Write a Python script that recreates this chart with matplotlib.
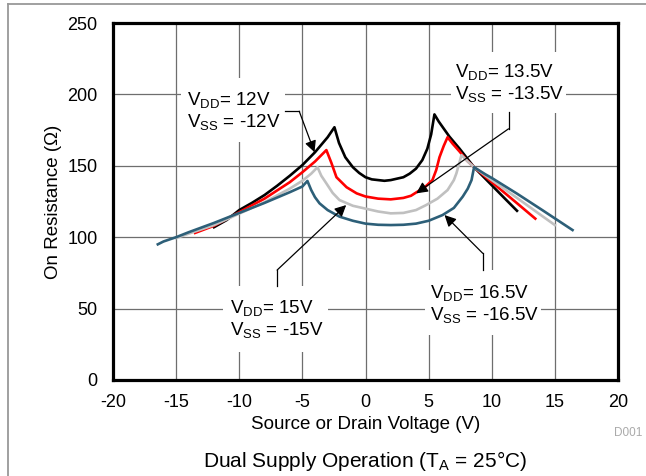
import matplotlib
matplotlib.use("Agg")
import matplotlib.pyplot as plt
from matplotlib.patches import Rectangle
from matplotlib.lines import Line2D

plt.rcParams['font.family'] = ['Liberation Sans', 'DejaVu Sans']
plt.rcParams['mathtext.default'] = 'regular'
plt.rcParams['axes.unicode_minus'] = False

# ---------------- data ----------------
v12 = [-12.0, -11, -10, -9, -8, -7, -6, -5, -4, -3, -2.46, -2.1, -1.6, -1.0, -0.5, 0, 0.5,
       1, 1.5, 2, 2.5, 3, 3.5, 4, 4.5, 4.9, 5.2, 5.46, 5.8, 6.2, 6.65, 7.45, 8.6, 10, 11, 12.0]
r12 = [107, 112, 119, 124, 129.5, 136, 143, 150.5, 159.5, 170, 177, 166, 156, 149, 145, 142, 140.5,
       140, 139.5, 140, 141, 142, 144.5, 148, 154, 162, 172, 186, 181, 176, 170.4, 162, 149, 136.4, 127.4, 118.5]

v135 = [-13.5, -12, -10, -8, -6, -5, -4, -3.1, -2.7, -2.3, -1.5, -0.7, 0, 1, 2, 3, 3.6, 4.1,
        4.7, 5.3, 5.6, 5.86, 6.2, 6.5, 6.9, 7.45, 8.0, 8.6, 10, 11, 12, 13.45]
r135 = [103, 108, 117.5, 127, 138.5, 145.5, 153, 161, 152, 142, 135, 130.7, 128.5, 127, 126.5, 127.5, 129, 131.8,
        135, 140, 147, 156, 164, 170, 165.5, 160, 154, 149, 138.6, 131.2, 123.8, 113]

v15 = [-15, -14, -12, -10, -8, -6, -5, -4.3, -3.8, -3.5, -3.1, -2.6, -2.06, -1, 0, 1, 2, 3, 4,
       4.8, 5.7, 6.5, 7.0, 7.2, 7.4, 7.6, 8.1, 8.6, 10, 12, 14, 15]
r15 = [99.4, 102.5, 108.5, 116.5, 124.5, 134, 139.5, 144.5, 149, 143, 137.7, 131, 126, 122, 120, 118, 116.7, 117, 119,
       122.5, 127, 133, 140, 144.7, 151, 157.5, 153, 149, 140, 127.5, 114.8, 108.5]

v165 = [-16.45, -16, -15, -14, -12, -10, -8, -6, -5, -4.6, -4.3, -4.0, -3.64, -3, -2.06, -1, 0, 1, 2, 3,
        4, 5, 6.1, 7.0, 7.7, 8.1, 8.4, 8.6, 9.5, 10, 12, 14, 16.4]
r165 = [95, 97, 100, 103.5, 110, 117, 124, 131.5, 135.5, 139.4, 133, 128, 123.7, 119, 114.4, 111.5, 109.5, 108.7, 108.5, 108.7,
        109.5, 111.5, 115.5, 120.5, 128.4, 134, 140, 149, 144, 141.5, 130.5, 119, 105]

series = [(v12, r12, 'black'), (v135, r135, '#ff0000'), (v15, r15, '#c0c0c0'), (v165, r165, '#2d5f78')]

labels = [r'V$_{DD}$= 12V' + '\n' + r'V$_{SS}$ = -12V',
          r'V$_{DD}$= 13.5V' + '\n' + r'V$_{SS}$ = -13.5V',
          r'V$_{DD}$= 15V' + '\n' + r'V$_{SS}$ = -15V',
          r'V$_{DD}$= 16.5V' + '\n' + r'V$_{SS}$ = -16.5V']

xticks = list(range(-20, 21, 5))
yticks = list(range(0, 251, 50))

# ---------------- figure ----------------
W, H = 646, 476
fig = plt.figure(figsize=(W / 100, H / 100), dpi=100)
ax = fig.add_axes([113 / W, 1 - 380 / H, (618 - 113) / W, (380 - 23) / H])
ax.set_xlim(-20, 20)
ax.set_ylim(0, 250)
ax.set_xticks(xticks)
ax.set_yticks(yticks)
ax.tick_params(axis='x', length=0, labelsize=13, pad=10)
ax.tick_params(axis='y', length=0, labelsize=13, pad=11)
ax.grid(True, color='#6e6e6e', lw=0.9)
ax.set_axisbelow(True)
for s in ax.spines.values():
    s.set_linewidth(2.3)
    s.set_zorder(10)

for v, r, c in series:
    ax.plot(v, r, color=c, lw=1.9, zorder=4, solid_joinstyle='round')

# annotation boxes: (x0, x1, y0, y1) in data units, text anchor (x, y)
boxes = [(-14.6, -6.4, 166.7, 211.5), (6.8, 15.9, 187.0, 230.0),
         (-11.3, -3.0, 19.6, 65.8), (4.7, 13.9, 31.5, 77.0)]
text_pos = [(-14.1, 188.4), (7.05, 208.0), (-10.7, 42.7), (5.07, 53.2)]
for (x0, x1, y0, y1), (tx, ty), lab in zip(boxes, text_pos, labels):
    ax.add_patch(Rectangle((x0, y0), x1 - x0, y1 - y0, facecolor='white',
                           edgecolor='none', zorder=2))
    ax.text(tx, ty, lab, fontsize=13.5, ha='left', va='center', zorder=3,
            linespacing=1.1)

# leader lines: start, elbow, tip
leaders = [((-6.4, 188.2), (-5.25, 188.2), (-4.04, 159.5)),
           ((11.33, 187.4), (11.33, 175.9), (4.02, 130.7)),
           ((-7.0, 65.8), (-7.0, 77.0), (-1.53, 122.5)),
           ((9.29, 77.0), (9.29, 88.7), (6.26, 115.5))]
for st, el, tip in leaders:
    ax.plot([st[0], el[0]], [st[1], el[1]], color='black', lw=0.9, zorder=5)
    ax.annotate('', xy=tip, xytext=el,
                arrowprops=dict(arrowstyle='-|>', color='black', lw=0.9,
                                mutation_scale=17, shrinkA=0, shrinkB=0),
                zorder=5)

ax.set_xlabel('Source or Drain Voltage (V)', fontsize=13.5, labelpad=4)
ax.set_ylabel('On Resistance (Ω)', fontsize=13.5, labelpad=4)

fig.text(628 / W, 1 - 433 / H, 'D001', color='#aaaaaa', fontsize=8.5,
         ha='center', va='center')
fig.text(365 / W, 1 - 461 / H, r'Dual Supply Operation (T$_A$ = 25°C)',
         fontsize=15, ha='center', va='center')

# outer frame
fig.add_artist(Line2D([8 / W, 8 / W], [0, 1 - 4 / H], transform=fig.transFigure,
                      color='#999999', lw=1.3))
fig.add_artist(Line2D([8 / W, 1], [1 - 4 / H, 1 - 4 / H], transform=fig.transFigure,
                      color='#999999', lw=1.3))

fig.savefig('out.png', dpi=100)
